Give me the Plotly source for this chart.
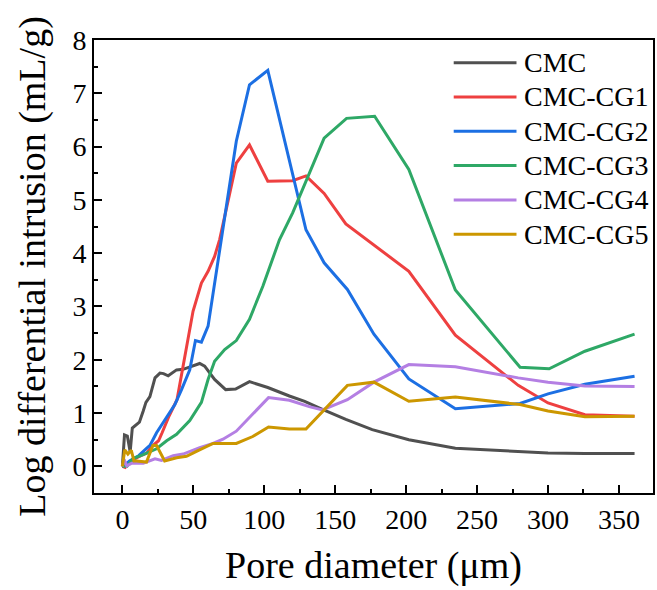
import plotly.graph_objects as go

names = ["CMC", "CMC-CG1", "CMC-CG2", "CMC-CG3", "CMC-CG4", "CMC-CG5"]
colors = ["#505050", "#EE4040", "#1C6FE3", "#2EA866", "#B47FE3", "#CC9700"]

x_cmc = [0, 1.5, 3.5, 5.5, 7, 9, 12, 14.7, 16.6, 19.4, 23, 26.5, 29, 32.3, 38.2, 42.8, 47.5, 54.5, 58, 65,
         72.8, 79.8, 89.6, 102.5, 117.7, 128.5, 141, 157.5, 176.1, 201.9, 234.7, 279, 300, 326, 361]
y_cmc = [0, 0.59, 0.57, 0.27, 0.72, 0.77, 0.83, 1.04, 1.20, 1.31, 1.66, 1.75, 1.74, 1.70, 1.81, 1.82, 1.87, 1.93, 1.88, 1.63,
         1.44, 1.45, 1.59, 1.48, 1.32, 1.22, 1.07, 0.88, 0.69, 0.50, 0.34, 0.27, 0.25, 0.24, 0.24]

x_cg1 = [0, 2, 4, 8, 13, 17.3, 21, 25.5, 28, 33, 38.5, 42.4, 46.3, 49.8, 55.7, 60.4, 65, 68.6, 80.3, 89.6,
         102.5, 120, 129.4, 142.2, 157.5, 201.9, 234.7, 279, 300, 326, 361]
y_cg1 = [0, -0.02, 0.05, 0.13, 0.2, 0.25, 0.38, 0.48, 0.63, 0.95, 1.25, 1.8, 2.38, 2.91, 3.44, 3.66, 3.94, 4.26, 5.69, 6.03,
         5.35, 5.36, 5.45, 5.12, 4.55, 3.66, 2.46, 1.52, 1.19, 0.97, 0.94]

x_cg2 = [0, 2, 5, 7.7, 11.5, 15.9, 19.6, 24.1, 29, 31.2, 37, 41.7, 47.5, 51.5, 55.7, 60.4, 69.8, 80.3, 89.6,
         102.5, 129.4, 142.2, 158.6, 177.3, 201.9, 234.7, 280.3, 300, 326, 361]
y_cg2 = [0, 0.03, 0.1, 0.14, 0.2, 0.31, 0.4, 0.63, 0.84, 0.91, 1.16, 1.44, 1.81, 2.36, 2.33, 2.63, 4.26, 6.1, 7.16,
         7.43, 4.44, 3.82, 3.32, 2.48, 1.64, 1.08, 1.18, 1.36, 1.54, 1.69]

x_cg3 = [0, 3.3, 7.7, 14.7, 24.1, 31.2, 38.2, 42.8, 47.5, 55.7, 60.4, 65, 72.1, 80.3, 89.6, 99, 110.7, 120.1,
         142.2, 158, 177.8, 201.9, 234.7, 280.3, 300.8, 326, 361]
y_cg3 = [0, 0, 0.15, 0.22, 0.33, 0.48, 0.6, 0.72, 0.86, 1.2, 1.63, 1.97, 2.19, 2.36, 2.76, 3.38, 4.25, 4.76,
         6.16, 6.53, 6.57, 5.57, 3.31, 1.86, 1.83, 2.16, 2.48]

x_cg4 = [0, 1.2, 3.1, 6.6, 14.7, 23, 27.6, 35.8, 42.8, 54.5, 63.9, 70.9, 80.3, 91.9, 103, 117.7, 131.7, 141,
         158.6, 177.3, 201.9, 234.7, 279, 300, 326, 361]
y_cg4 = [0, 0.13, 0.01, 0.06, 0.06, 0.14, 0.11, 0.2, 0.23, 0.35, 0.43, 0.51, 0.66, 0.98, 1.29, 1.24, 1.12, 1.06,
         1.25, 1.58, 1.91, 1.87, 1.66, 1.58, 1.51, 1.50]

x_cg5 = [0, 1.7, 3.9, 6.3, 8.2, 10.1, 17, 21.5, 24.1, 29.8, 38.2, 45.2, 52.2, 63.9, 80.3, 91.9, 103, 117.7,
         129.4, 158.6, 177.3, 201.9, 234.7, 280.3, 300, 326, 361]
y_cg5 = [0, 0.31, 0.23, 0.30, 0.1, 0.1, 0.08, 0.39, 0.39, 0.1, 0.16, 0.19, 0.28, 0.43, 0.43, 0.56, 0.74, 0.70,
         0.70, 1.52, 1.58, 1.22, 1.30, 1.16, 1.04, 0.93, 0.94]

xs = [x_cmc, x_cg1, x_cg2, x_cg3, x_cg4, x_cg5]
ys = [y_cmc, y_cg1, y_cg2, y_cg3, y_cg4, y_cg5]

FONT = "Liberation Serif"

fig = go.Figure()
for n, c, x, y in zip(names, colors, xs, ys):
    fig.add_trace(go.Scatter(x=x, y=y, mode="lines", name=n, showlegend=False,
                             line=dict(color=c, width=3)))

# custom legend (long line samples, like the reference)
W, H = 657, 590
ml, mr, mt, mb = 94, 2, 40, 97
pw, ph = W - ml - mr, H - mt - mb
def px2paper(px, py):
    return (px - ml) / pw, (H - mb - py) / ph

for i, (n, c) in enumerate(zip(names, colors)):
    py = 62.7 + i * 34.3
    x0, y0 = px2paper(455, py)
    x1, _ = px2paper(518, py)
    xt, _ = px2paper(524, py)
    fig.add_shape(type="line", xref="paper", yref="paper", x0=x0, x1=x1, y0=y0, y1=y0,
                  line=dict(color=c, width=3))
    fig.add_annotation(xref="paper", yref="paper", x=xt, y=y0, text=n, showarrow=False,
                       xanchor="left", yanchor="middle", font=dict(size=28, color="black", family=FONT))

axis_common = dict(
    showline=True, linecolor="black", linewidth=2, mirror=True,
    ticks="inside", ticklen=8, tickwidth=1.5, tickcolor="black",
    showgrid=False, zeroline=False,
    tickfont=dict(size=28, color="black", family=FONT),
)

fig.update_xaxes(range=[-20, 374], tickvals=[0, 50, 100, 150, 200, 250, 300, 350],
                 minor=dict(tickvals=[25, 75, 125, 175, 225, 275, 325], ticks="inside", ticklen=4,
                            tickwidth=1.5, tickcolor="black"),
                 title=dict(text="Pore diameter (μm)", font=dict(size=38, color="black", family=FONT), standoff=18),
                 **axis_common)
fig.update_yaxes(range=[-0.5, 8], tickvals=[0, 1, 2, 3, 4, 5, 6, 7, 8],
                 minor=dict(tickvals=[-0.5, 0.5, 1.5, 2.5, 3.5, 4.5, 5.5, 6.5, 7.5], ticks="inside", ticklen=4,
                            tickwidth=1.5, tickcolor="black"),
                 title=dict(text="Log differential intrusion (mL/g)", font=dict(size=38, color="black", family=FONT),
                            standoff=15),
                 **axis_common)

fig.update_layout(width=W, height=H, margin=dict(l=ml, r=mr, t=mt, b=mb),
                  paper_bgcolor="white", plot_bgcolor="white",
                  font=dict(family=FONT, color="black"))

fig.write_html("out.html")
